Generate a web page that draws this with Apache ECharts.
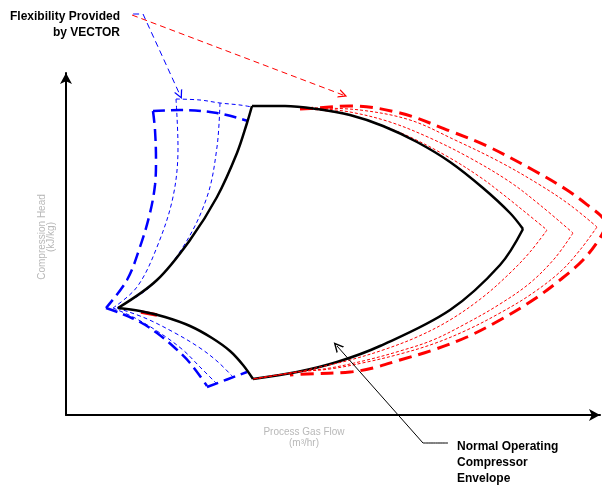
<!DOCTYPE html>
<html>
<head>
<meta charset="utf-8">
<style>
  html, body { margin: 0; padding: 0; background: #ffffff; }
  #chart { width: 606px; height: 486px; }
</style>
<script src="https://cdn.jsdelivr.net/npm/echarts@6/dist/echarts.min.js"></script>
</head>
<body>
<div id="chart"></div>
<script>
// Axis extents (flow / head, arbitrary units, no tick values shown)
const flowMax = 534;
const headMax = 342;

// Normal operating envelope (black), four boundary arcs
const envelopeTop = [[186,309],[219,309],[251,306],[284,300],[317,289],[351,273],[384,253],[417,227],[444,202],[457,186]];
const envelopeBottom = [[457,186],[434,150],[384,105],[314,69],[271,53],[231,43],[187,36]];
const envelopeLowerLeft = [[187,36],[177,50],[164,64],[146,77],[124,89],[99,98],[74,104],[52,107]];
const envelopeUpperLeft = [[52,107],[91,135],[124,175],[151,218],[171,262],[181,292],[186,309]];

// High-flow extensions (red)
const highOuterTop = [[234,306],[251,307],[284,309],[334,302],[384,284],[421,269],[467,245],[501,225],[524,208],[537,197],[540,189]];
const highOuterBottom = [[540,189],[534,177],[517,155],[494,135],[467,115],[434,95],[401,78],[367,65],[334,55],[307,47],[284,43],[241,41],[224,40]];
const highStep1Top = [[244,306],[274,302],[304,294],[344,278],[384,257],[414,238],[434,223],[459,203],[481,185]];
const highStep1Bottom = [[481,185],[464,163],[444,142],[417,118],[384,95],[351,78],[317,65],[284,55],[254,48],[231,43],[187,36]];
const highStep2Top = [[249,307],[284,303],[324,293],[364,277],[404,257],[444,233],[474,210],[507,182]];
const highStep2Bottom = [[507,182],[489,157],[464,132],[434,111],[401,92],[367,75],[334,64],[301,55],[264,47],[231,43],[187,36]];
const highStep3Top = [[249,307],[294,305],[344,295],[389,275],[434,253],[474,230],[504,210],[531,188]];
const highStep3Bottom = [[531,188],[514,165],[494,143],[464,120],[434,102],[401,85],[367,71],[334,61],[301,53],[264,46],[231,43],[187,36]];
const highLowerStub = [[75,103],[91,100]];

// Low-flow extensions (blue)
const lowOuterTop = [[87,304],[114,305],[151,302],[182,294]];
const lowOuterLeft = [[87,304],[89,285],[90,255],[89,230],[84,202],[74,168],[61,135],[40,107]];
const lowOuterBottom = [[40,107],[54,102],[74,93],[91,82],[109,67],[124,52],[141,29]];
const lowOuterBase = [[141,28],[181,43]];
const lowStepTop = [[110,316],[134,315],[154,312],[174,310],[186,308]];
const lowStep1Left = [[110,316],[112,268],[107,218],[91,168],[71,128],[47,107]];
const lowStep1Bottom = [[47,107],[69,97],[94,82],[117,65],[134,48],[151,31]];
const lowStep2Left = [[154,312],[151,268],[141,218],[117,168],[84,128],[51,107]];
const lowStep2Bottom = [[51,107],[79,97],[109,82],[134,67],[152,53],[167,38]];

// Annotation leaders
const blueLeaderStub = [[67,401],[77,401]];
const blueLeaderArrow = [[77,401],[114,320]];
const redLeaderArrow = [[66,400],[277,320]];
const envelopeLeaderStub = [[357,-28],[382,-28]];
const envelopeLeaderArrow = [[357,-28],[271,69]];

const BLACK = '#000000';
const RED = '#ff0000';
const BLUE = '#0000ff';
const openArrow = 'path://M0,10 L5,0 L10,10 L8.4,10 L5,3.2 L1.6,10 Z';

function curve(data, color, width, dash, z) {
  return {
    type: 'line',
    data: data,
    symbol: 'none',
    showSymbol: false,
    smooth: 0.35,
    clip: false,
    silent: true,
    z: z,
    lineStyle: { color: color, width: width, type: dash, cap: 'butt' }
  };
}

function leader(data, color, dash, size) {
  return {
    type: 'lines',
    coordinateSystem: 'cartesian2d',
    clip: false,
    silent: true,
    z: 6,
    symbol: ['none', openArrow],
    symbolSize: size,
    lineStyle: { color: color, width: 1, type: dash, opacity: 1 },
    data: [{ coords: data }]
  };
}

const thickRed = [13, 7];
const thinRed = [3, 2];
const thickBlue = [12, 6];
const thinBlue = [4, 3];

const series = [
  // blue low-flow extensions
  curve(lowOuterTop, BLUE, 2.5, thickBlue, 2),
  curve(lowOuterLeft, BLUE, 2.5, thickBlue, 2),
  curve(lowOuterBottom, BLUE, 2.5, thickBlue, 2),
  curve(lowOuterBase, BLUE, 2.5, thickBlue, 2),
  curve(lowStepTop, BLUE, 1, thinBlue, 2),
  curve(lowStep1Left, BLUE, 1, thinBlue, 2),
  curve(lowStep1Bottom, BLUE, 1, thinBlue, 2),
  curve(lowStep2Left, BLUE, 1, thinBlue, 2),
  curve(lowStep2Bottom, BLUE, 1, thinBlue, 2),
  // red high-flow extensions
  curve(highOuterTop, RED, 3, thickRed, 2),
  curve(highOuterBottom, RED, 3, thickRed, 2),
  curve(highStep1Top, RED, 1, thinRed, 2),
  curve(highStep2Top, RED, 1, thinRed, 2),
  curve(highStep3Top, RED, 1, thinRed, 2),
  curve(highLowerStub, RED, 3.5, 'solid', 2),
  // normal envelope
  curve(envelopeTop, BLACK, 2.5, 'solid', 3),
  curve(envelopeBottom, BLACK, 2.5, 'solid', 3),
  curve(envelopeLowerLeft, BLACK, 2.5, 'solid', 3),
  curve(envelopeUpperLeft, BLACK, 2.5, 'solid', 3),
  // red lower arcs run over the envelope edge near the corner
  curve(highStep1Bottom, RED, 1, thinRed, 4),
  curve(highStep2Bottom, RED, 1, thinRed, 4),
  curve(highStep3Bottom, RED, 1, thinRed, 4),
  // leaders
  curve(blueLeaderStub, BLUE, 1, [6, 4], 6),
  leader(blueLeaderArrow, BLUE, [6, 4], 9),
  leader(redLeaderArrow, RED, [6, 4], 9),
  curve(envelopeLeaderStub, BLACK, 1, 'solid', 6),
  leader(envelopeLeaderArrow, BLACK, 'solid', 10)
];

const axisLine = {
  show: true,
  onZero: false,
  symbol: ['none', 'arrow'],
  symbolSize: [9, 11],
  symbolOffset: [0, 0],
  lineStyle: { color: BLACK, width: 2 }
};

const chart = echarts.init(document.getElementById('chart'), null, { renderer: 'canvas' });
chart.setOption({
  animation: false,
  backgroundColor: '#ffffff',
  grid: { left: 66, right: 6, top: 73, bottom: 71, containLabel: false },
  xAxis: {
    type: 'value', min: 0, max: flowMax,
    axisLine: axisLine,
    axisTick: { show: false }, axisLabel: { show: false }, splitLine: { show: false }
  },
  yAxis: {
    type: 'value', min: 0, max: headMax,
    axisLine: axisLine,
    axisTick: { show: false }, axisLabel: { show: false }, splitLine: { show: false }
  },
  graphic: [
    {
      type: 'text', x: 120, y: 9, silent: true,
      style: {
        text: 'Flexibility Provided\nby VECTOR',
        align: 'right', textAlign: 'right', verticalAlign: 'top', textVerticalAlign: 'top',
        font: 'bold 12px "Liberation Sans", Arial, sans-serif', lineHeight: 16, fill: '#000000'
      }
    },
    {
      type: 'text', x: 457, y: 439, silent: true,
      style: {
        text: 'Normal Operating\nCompressor\nEnvelope',
        align: 'left', textAlign: 'left', verticalAlign: 'top', textVerticalAlign: 'top',
        font: 'bold 12px "Liberation Sans", Arial, sans-serif', lineHeight: 16, fill: '#000000'
      }
    },
    {
      type: 'text', x: 304, y: 438, silent: true,
      style: {
        text: 'Process Gas Flow\n(m³/hr)',
        align: 'center', textAlign: 'center', verticalAlign: 'middle', textVerticalAlign: 'middle',
        font: '10px "Liberation Sans", Arial, sans-serif', lineHeight: 11, fill: '#b8b8b8'
      }
    },
    {
      type: 'text', x: 47, y: 237, rotation: Math.PI / 2, silent: true,
      style: {
        text: 'Compression Head\n(kJ/kg)',
        align: 'center', textAlign: 'center', verticalAlign: 'middle', textVerticalAlign: 'middle',
        font: '10px "Liberation Sans", Arial, sans-serif', lineHeight: 9, fill: '#b8b8b8'
      }
    }
  ],
  series: series
});
</script>
</body>
</html>
